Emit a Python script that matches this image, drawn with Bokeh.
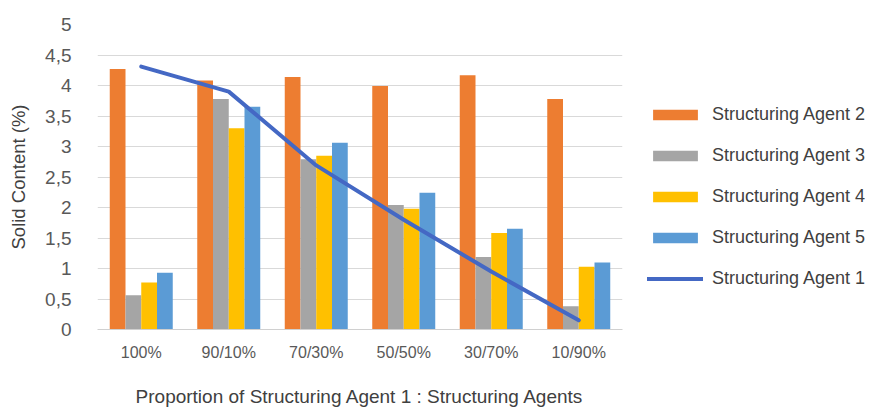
from bokeh.plotting import figure
from bokeh.models import (ColumnDataSource, FactorRange, FixedTicker, Legend,
                          LegendItem)
from bokeh.transform import dodge
from bokeh.embed import file_html
from bokeh.resources import INLINE

# Proportion of Structuring Agent 1 : other structuring agents
categories = ["100%", "90/10%", "70/30%", "50/50%", "30/70%", "10/90%"]

# Solid content (%) per structuring agent
agent2 = [4.27, 4.08, 4.14, 3.99, 4.17, 3.78]
agent3 = [0.56, 3.78, 2.79, 2.04, 1.19, 0.38]
agent4 = [0.77, 3.30, 2.85, 1.98, 1.58, 1.03]
agent5 = [0.93, 3.65, 3.06, 2.24, 1.65, 1.10]
agent1 = [4.31, 3.90, 2.69, 1.80, 0.95, 0.15]

y_ticks = [0, 0.5, 1, 1.5, 2, 2.5, 3, 3.5, 4, 4.5, 5]
y_tick_labels = ["0", "0,5", "1", "1,5", "2", "2,5", "3", "3,5", "4", "4,5", "5"]

series_names = ["Structuring Agent 2", "Structuring Agent 3",
                "Structuring Agent 4", "Structuring Agent 5"]
bar_colors = ["#ED7D31", "#A5A5A5", "#FFC000", "#5B9BD5"]
line_color = "#4468C4"

FONT = "Liberation Sans"

source = ColumnDataSource(data=dict(cat=categories, a2=agent2, a3=agent3,
                                    a4=agent4, a5=agent5, a1=agent1))

p = figure(frame_width=525, frame_height=305, x_range=FactorRange(*categories),
           y_range=(0, 5), output_backend="svg", toolbar_location=None,
           min_border_left=97, min_border_right=248,
           min_border_top=24, min_border_bottom=79)
p.outline_line_color = None
p.background_fill_color = "white"
p.border_fill_color = "white"

offsets = [-0.27, -0.09, 0.09, 0.27]
renderers = []
for key, off, col in zip(["a2", "a3", "a4", "a5"], offsets, bar_colors):
    r = p.vbar(x=dodge("cat", off, range=p.x_range), top=key, width=0.18,
               source=source, fill_color=col, line_color=None)
    renderers.append(r)

line_r = p.line(x="cat", y="a1", source=source, line_color=line_color,
                line_width=4, line_cap="round", line_join="round")

# Axes
p.yaxis.ticker = FixedTicker(ticks=y_ticks)
p.yaxis.major_label_overrides = {t: s for t, s in zip(y_ticks, y_tick_labels)}
for ax in (p.xaxis[0], p.yaxis[0]):
    ax.major_tick_line_color = None
    ax.minor_tick_line_color = None
    ax.major_label_text_font = FONT
    ax.major_label_text_color = "#595959"
    ax.axis_label_text_font = FONT
    ax.axis_label_text_font_style = "normal"
    ax.axis_label_text_color = "#404040"

p.yaxis.axis_line_color = None
p.yaxis.major_label_text_font_size = "19px"
p.yaxis.major_label_standoff = 20
p.yaxis.axis_label = "Solid Content (%)"
p.yaxis.axis_label_text_font_size = "18.5px"
p.yaxis.axis_label_standoff = 13

p.xaxis.axis_line_color = "#D0D0D0"
p.xaxis.major_label_text_font_size = "16px"
p.xaxis.major_label_standoff = 8
p.xaxis.axis_label = "Proportion of Structuring Agent 1 : Structuring Agents"
p.xaxis.axis_label_text_font_size = "19px"
p.xaxis.axis_label_standoff = 22

p.xgrid.grid_line_color = None
p.ygrid.grid_line_color = "#D9D9D9"
p.ygrid.grid_line_width = 1

items = [LegendItem(label=n, renderers=[r]) for n, r in zip(series_names, renderers)]
items.append(LegendItem(label="Structuring Agent 1", renderers=[line_r]))
legend = Legend(items=items, location=(25, 40), orientation="vertical",
                padding=0, margin=0, spacing=20, border_line_color=None,
                background_fill_alpha=0, glyph_width=56, glyph_height=13,
                label_height=21, label_standoff=9,
                label_text_font=FONT, label_text_font_size="18px",
                label_text_color="#404040")
p.add_layout(legend, "right")

open("out.html", "w").write(file_html(p, INLINE))
